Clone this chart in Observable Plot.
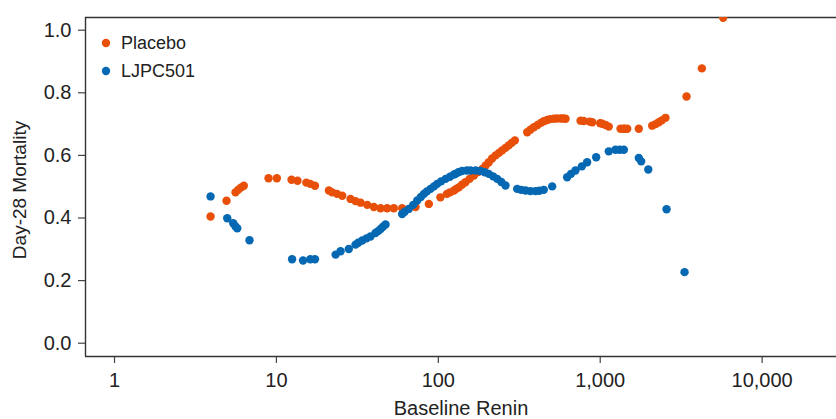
<!DOCTYPE html>
<html><head><meta charset="utf-8">
<script src="https://cdn.jsdelivr.net/npm/d3@7"></script>
<script src="https://cdn.jsdelivr.net/npm/@observablehq/plot@0.6"></script>
<style>
body{margin:0;background:#fff;}
#chart{position:relative;width:836px;height:419px;overflow:hidden;}
</style>
</head><body><div id="chart"></div>
<script>
const seriesNames = ["Placebo", "LJPC501"];
const seriesColors = ["#e8500a", "#0568b3"];

const placeboRenin = [3.92,4.92,5.59,5.81,6.03,6.29,8.94,10.06,12.4,13.5,15.3,16.2,17.3,21.1,22.1,23.7,25.5,28.7,30.8,33.1,36.4,40.0,44.0,48.3,53.1,59.8,72.3,87.4,103,113,118,125,129,134,140,147,156,166,176,187,196,205,215,226,237,248,260,272,284,297,354,370,389,410,430,448,470,490,517,540,570,590,611,756,790,860,893,1000,1029,1080,1130,1335,1390,1420,1468,1731,2094,2200,2300,2400,2530,3413,4245,5750];
const placeboMortality = [0.405,0.455,0.482,0.490,0.497,0.503,0.527,0.527,0.522,0.519,0.513,0.509,0.503,0.488,0.482,0.477,0.471,0.461,0.454,0.449,0.442,0.435,0.431,0.431,0.431,0.431,0.435,0.445,0.466,0.477,0.482,0.488,0.493,0.498,0.506,0.514,0.525,0.536,0.547,0.557,0.568,0.578,0.590,0.600,0.608,0.616,0.624,0.632,0.640,0.648,0.674,0.682,0.690,0.697,0.704,0.709,0.713,0.716,0.717,0.718,0.718,0.718,0.717,0.711,0.710,0.708,0.706,0.703,0.701,0.697,0.692,0.685,0.685,0.685,0.685,0.685,0.695,0.700,0.706,0.712,0.720,0.788,0.878,1.04];

const ljpcRenin = [3.92,4.97,5.41,5.59,5.73,6.82,12.5,14.6,16.2,17.3,23.2,24.9,28.0,30.8,32,33.9,36,38.1,40.9,42.5,44.0,45.5,47.2,59.8,62,65.7,70,74.1,78,81.5,85,89.5,94,98.4,104,111,118,125,128,133,140,150,158,170,182,194,205,218,231,245,260,307,325,346,370,398,420,448,505,625,660,703,770,830,944,1130,1242,1320,1400,1731,1791,1981,2569,3318];
const ljpcMortality = [0.469,0.399,0.383,0.373,0.367,0.329,0.268,0.264,0.268,0.268,0.283,0.294,0.301,0.315,0.321,0.328,0.335,0.341,0.352,0.358,0.365,0.372,0.379,0.413,0.420,0.429,0.442,0.456,0.467,0.477,0.485,0.493,0.501,0.509,0.517,0.525,0.532,0.539,0.541,0.546,0.550,0.552,0.552,0.552,0.550,0.546,0.541,0.533,0.525,0.515,0.504,0.493,0.490,0.488,0.486,0.486,0.487,0.490,0.501,0.530,0.541,0.552,0.565,0.578,0.594,0.613,0.618,0.618,0.618,0.592,0.581,0.555,0.428,0.227];

const xTicks = [1, 10, 100, 1000, 10000];
const xTickLabels = ["1", "10", "100", "1,000", "10,000"];
const yTicks = [0, 0.2, 0.4, 0.6, 0.8, 1.0];
const yTickLabels = ["0.0", "0.2", "0.4", "0.6", "0.8", "1.0"];
const xDomain = [0.662, 28800];
const yDomain = [-0.0425, 1.0406];
const xTitle = "Baseline Renin";
const yTitle = "Day-28 Mortality";

const data = [
  ...placeboRenin.map((r, i) => ({renin: r, mortality: placeboMortality[i], group: seriesNames[0]})),
  ...ljpcRenin.map((r, i) => ({renin: r, mortality: ljpcMortality[i], group: seriesNames[1]}))
];

const axisColor = "#333";
const chart = Plot.plot({
  width: 836, height: 419,
  marginLeft: 85, marginTop: 17, marginRight: 0, marginBottom: 63,
  style: {fontFamily: "'Liberation Sans', Arial, sans-serif", fontSize: "20px", background: "white", color: "#222", overflow: "visible"},
  x: {type: "log", domain: xDomain},
  y: {domain: yDomain},
  color: {domain: seriesNames, range: seriesColors},
  marks: [
    Plot.axisX({ticks: xTicks, tickFormat: d => xTickLabels[xTicks.indexOf(d)], tickSize: 7, tickPadding: 9, label: null, stroke: "#444", strokeWidth: 1.2}),
    Plot.axisY({ticks: yTicks, tickFormat: d => yTickLabels[yTicks.findIndex(t => Math.abs(t - d) < 1e-9)], tickSize: 7, tickPadding: 7, label: null, stroke: "#444", strokeWidth: 1.2}),
    Plot.ruleX([xDomain[0]], {stroke: axisColor, strokeWidth: 1.4}),
    Plot.ruleY([yDomain[0]], {stroke: axisColor, strokeWidth: 1.4}),
    Plot.ruleY([yDomain[1]], {stroke: axisColor, strokeWidth: 1.4}),
    Plot.dot(data.filter(d => d.group === seriesNames[0]), {x: "renin", y: "mortality", fill: "group", r: 4.2, clip: true}),
    Plot.dot(data.filter(d => d.group === seriesNames[1]), {x: "renin", y: "mortality", fill: "group", r: 4.2, clip: true}),
    Plot.text([xTitle], {frameAnchor: "bottom", dy: 52, fontSize: 20, textAnchor: "middle", lineAnchor: "middle", fill: "#222"}),
    Plot.text([yTitle], {frameAnchor: "left", dx: -66, dy: 3, rotate: -90, fontSize: 19, textAnchor: "middle", lineAnchor: "middle", fill: "#222"})
  ]
});
document.getElementById("chart").appendChild(chart);

const svg = d3.select(chart);
const legend = svg.append("g").attr("transform", "translate(106,43)");
seriesNames.forEach((name, i) => {
  const g = legend.append("g").attr("transform", `translate(0,${i * 28})`);
  g.append("circle").attr("r", 4.2).attr("fill", seriesColors[i]);
  g.append("text").attr("x", 15).attr("dy", "0.35em").attr("text-anchor", "start")
    .attr("font-size", 18).attr("fill", "#222").text(name);
});
</script>
</body></html>
